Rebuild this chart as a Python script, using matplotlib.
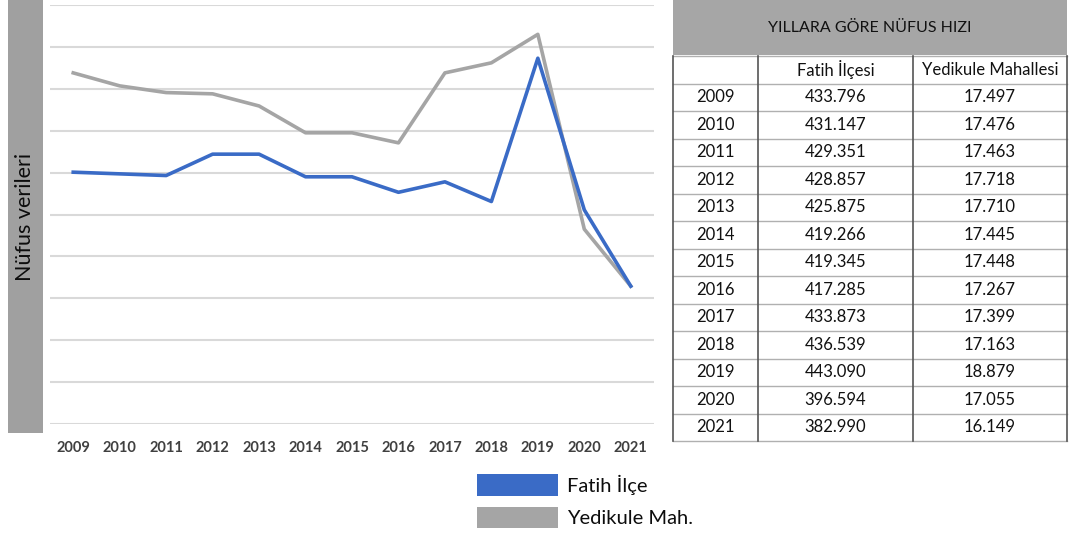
import matplotlib.pyplot as plt
from matplotlib.patches import Rectangle

plt.rcParams['font.family'] = ['Lato', 'DejaVu Sans']

years = ['2009', '2010', '2011', '2012', '2013', '2014', '2015',
         '2016', '2017', '2018', '2019', '2020', '2021']
# line heights (no y scale shown)
fatih_line = [6.01, 5.97, 5.93, 6.44, 6.44, 5.90, 5.90, 5.53, 5.78, 5.31, 8.73, 5.11, 3.29]
yedikule_line = [8.38, 8.07, 7.91, 7.88, 7.59, 6.95, 6.95, 6.71, 8.38, 8.62, 9.30, 4.65, 3.29]
# table values
fatih_tab = ['433.796', '431.147', '429.351', '428.857', '425.875', '419.266', '419.345',
             '417.285', '433.873', '436.539', '443.090', '396.594', '382.990']
yedikule_tab = ['17.497', '17.476', '17.463', '17.718', '17.710', '17.445', '17.448',
                '17.267', '17.399', '17.163', '18.879', '17.055', '16.149']

blue = '#3a6bc6'
grey = '#a5a5a5'
W, H = 1070, 535

fig = plt.figure(figsize=(10.7, 5.35), dpi=100)

# overlay axes in pixel coords for the decorations and the table
bg = fig.add_axes([0, 0, 1, 1])
bg.set_xlim(0, W)
bg.set_ylim(H, 0)
bg.axis('off')

# grey side bar with axis title
bg.add_patch(Rectangle((8, 0), 35, 433, color='#a0a0a0', lw=0))
bg.text(25, 217, 'Nüfus verileri', rotation=90, ha='center', va='center',
        fontsize=15.5, color='#0d0d0d')

# line chart
ax = fig.add_axes([50 / W, (H - 424) / H, 604 / W, 419 / H])
x = range(len(years))
ax.plot(x, yedikule_line, color=grey, lw=2.6, zorder=3)
ax.plot(x, fatih_line, color=blue, lw=2.6, zorder=4)
ax.set_xlim(-0.5, len(years) - 0.5)
ax.set_ylim(0, 10)
ax.set_yticks(range(11))
ax.set_yticklabels([])
ax.tick_params(length=0)
ax.set_xticks(list(x))
ax.set_xticklabels(years, fontsize=10.5, color='#404040', fontweight='bold')
ax.tick_params(axis='x', pad=12)
ax.grid(axis='y', color='#d9d9d9', lw=1.5)
ax.set_axisbelow(True)
for s in ax.spines.values():
    s.set_visible(False)

# legend
bg.add_patch(Rectangle((477, 474), 81, 22, color=blue, lw=0))
bg.add_patch(Rectangle((477, 507), 81, 21, color=grey, lw=0))
bg.text(567, 485, 'Fatih İlçe', fontsize=14.5, va='center', ha='left', color='#0d0d0d')
bg.text(567, 518, 'Yedikule Mah.', fontsize=14.5, va='center', ha='left', color='#0d0d0d')

# table
tx0, tx1, tx2, tx3 = 673, 758, 913, 1067
bg.add_patch(Rectangle((tx0, 0), tx3 - tx0, 55, color='#a6a6a6', lw=0))
bg.text((tx0 + tx3) / 2, 28, 'YILLARA GÖRE NÜFUS HIZI', ha='center', va='center',
        fontsize=11.5, color='#111111')
row_h = 27.5
top = 56
bottom = top + row_h * (len(years) + 1)
for i in range(len(years) + 2):
    y = top + i * row_h
    bg.plot([tx0, tx3], [y, y], color='#b0b0b0', lw=1)
for xv in (tx0, tx1, tx2, tx3):
    bg.plot([xv, xv], [top, bottom], color='#555555', lw=1.2)
fs = 12
bg.text((tx1 + tx2) / 2, top + row_h / 2, 'Fatih İlçesi', ha='center', va='center',
        fontsize=fs, color='#111111')
bg.text((tx2 + tx3) / 2, top + row_h / 2, 'Yedikule Mahallesi', ha='center', va='center',
        fontsize=fs, color='#111111')
for i, yr in enumerate(years):
    yc = top + (i + 1.5) * row_h
    bg.text((tx0 + tx1) / 2, yc, yr, ha='center', va='center', fontsize=fs, color='#111111')
    bg.text((tx1 + tx2) / 2, yc, fatih_tab[i], ha='center', va='center', fontsize=fs, color='#111111')
    bg.text((tx2 + tx3) / 2, yc, yedikule_tab[i], ha='center', va='center', fontsize=fs, color='#111111')

fig.savefig('out.png', dpi=100)
